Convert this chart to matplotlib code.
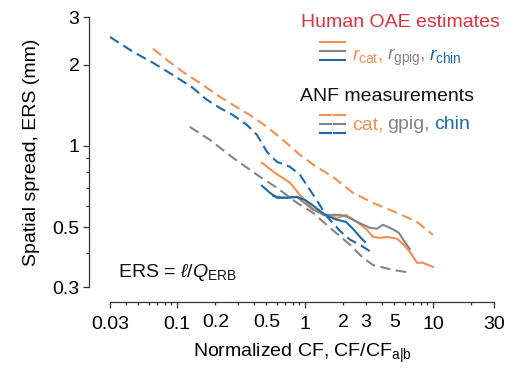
import matplotlib
matplotlib.use('Agg')
import matplotlib.pyplot as plt
from matplotlib.ticker import FixedLocator, NullFormatter, FixedFormatter

plt.rcParams['font.family'] = ['Liberation Sans', 'DejaVu Sans']
plt.rcParams['mathtext.fontset'] = 'custom'
plt.rcParams['mathtext.rm'] = 'Liberation Sans'
plt.rcParams['mathtext.it'] = 'Liberation Sans:italic'
plt.rcParams['mathtext.bf'] = 'Liberation Sans:bold'

# ANF measurements (dashed)
cat_anf_x = [0.065, 0.0835, 0.111, 0.151, 0.205, 0.274, 0.372, 0.505, 0.673, 0.914, 1.197, 1.65, 2.37, 3.4,
             5.23, 7.5, 10.0]
cat_anf_y = [2.29, 2.08, 1.88, 1.71, 1.545, 1.418, 1.30, 1.176, 1.052, 0.926, 0.843, 0.768, 0.67, 0.615,
             0.565, 0.523, 0.468]
gpig_anf_x = [0.126, 0.181, 0.274, 0.445, 0.605, 0.866, 1.155, 1.57, 2.25, 2.84, 3.4, 4.87, 6.6]
gpig_anf_y = [1.176, 1.052, 0.903, 0.768, 0.699, 0.615, 0.565, 0.497, 0.43, 0.385, 0.362, 0.347, 0.339]
chin_anf_x = [0.030, 0.0453, 0.065, 0.093, 0.133, 0.1716, 0.217, 0.274, 0.352, 0.422, 0.505, 0.605, 0.764,
              0.914, 1.055, 1.26, 1.49, 1.88, 2.25, 2.69, 3.4]
chin_anf_y = [2.53, 2.23, 2.03, 1.83, 1.64, 1.48, 1.38, 1.30, 1.196, 1.098, 0.95, 0.872, 0.836,
              0.781, 0.705, 0.62, 0.546, 0.484, 0.449, 0.43, 0.40]

# Human OAE estimates (solid)
cat_oae_x = [0.462, 0.583, 0.764, 0.914, 1.134, 1.38, 1.78, 2.09, 2.55, 3.05, 3.4, 3.85, 4.37, 5.23,
             5.93, 6.73, 7.5, 8.35, 10.0]
cat_oae_y = [0.865, 0.794, 0.73, 0.658, 0.589, 0.555, 0.541, 0.555, 0.523, 0.489, 0.46, 0.456, 0.46, 0.453,
             0.43, 0.40, 0.369, 0.369, 0.356]
gpig_oae_x = [0.5625, 0.673, 0.866, 1.04, 1.155, 1.485, 1.88, 2.13, 2.55, 3.22, 3.65, 4.07, 4.78, 5.42, 5.93, 6.6]
gpig_oae_y = [0.653, 0.642, 0.647, 0.604, 0.58, 0.555, 0.555, 0.546, 0.523, 0.497, 0.493, 0.51, 0.493, 0.476,
              0.445, 0.415]
chin_oae_x = [0.462, 0.533, 0.605, 0.723, 0.866, 1.0, 1.197, 1.43, 1.78, 2.09, 2.37, 2.69, 2.94]
chin_oae_y = [0.711, 0.67, 0.642, 0.642, 0.647, 0.631, 0.594, 0.555, 0.532, 0.523, 0.493, 0.46, 0.441]

x_major = [0.03, 0.1, 1, 10, 30]
x_minor_labeled = [0.2, 0.5, 2, 3, 5]
y_ticks = [0.3, 0.5, 1, 2, 3]

ORANGE = '#F28F55'
GRAY = '#848484'
BLUE = '#1E6AA8'
RED = '#DC3340'
FS = 14

W, H = 516, 369
fig = plt.figure(figsize=(W / 100, H / 100), dpi=100)
ax = fig.add_axes([110 / W, 1 - 287 / H, 384 / W, 270 / H])

dash = (5, 2.6)
lw = 1.5
ax.plot(cat_anf_x, cat_anf_y, color=ORANGE, lw=lw, dashes=dash)
ax.plot(gpig_anf_x, gpig_anf_y, color=GRAY, lw=lw, dashes=dash)
ax.plot(chin_anf_x, chin_anf_y, color=BLUE, lw=lw, dashes=dash)
ax.plot(cat_oae_x, cat_oae_y, color=ORANGE, lw=lw)
ax.plot(gpig_oae_x, gpig_oae_y, color=GRAY, lw=lw)
ax.plot(chin_oae_x, chin_oae_y, color=BLUE, lw=lw)

ax.set_xscale('log')
ax.set_yscale('log')
ax.set_xlim(0.03, 30)
ax.set_ylim(0.3, 3)

for s in ['top', 'right']:
    ax.spines[s].set_visible(False)
ax.spines['left'].set_position(('outward', 15))
ax.spines['bottom'].set_position(('outward', 11))
for s in ['left', 'bottom']:
    ax.spines[s].set_color('#333333')
    ax.spines[s].set_linewidth(0.9)

x_minor = [m * d for d in [0.01, 0.1, 1, 10] for m in range(2, 10) if 0.03 < m * d < 30]
ax.xaxis.set_major_locator(FixedLocator(x_major))
ax.xaxis.set_major_formatter(FixedFormatter(['0.03', '0.1', '1', '10', '30']))
ax.xaxis.set_minor_locator(FixedLocator(x_minor))
ax.xaxis.set_minor_formatter(FixedFormatter(
    [('%g' % v) if any(abs(v - t) < 1e-9 for t in x_minor_labeled) else '' for v in x_minor]))

y_minor = [0.4, 0.6, 0.7, 0.8, 0.9]
ax.yaxis.set_major_locator(FixedLocator(y_ticks))
ax.yaxis.set_major_formatter(FixedFormatter(['0.3', '0.5', '1', '2', '3']))
ax.yaxis.set_minor_locator(FixedLocator(y_minor))
ax.yaxis.set_minor_formatter(NullFormatter())

ax.tick_params(which='major', length=4, width=0.9, color='#333333', labelsize=FS, pad=3)
ax.tick_params(which='minor', length=2.5, width=0.9, color='#333333', labelsize=FS, pad=6)
ax.tick_params(axis='x', which='major', pad=6)
ax.tick_params(axis='y', which='major', pad=3)

ax.set_xlabel('Normalized CF, CF/CF$_{\\mathrm{a|b}}$', fontsize=FS, labelpad=6)
ax.set_ylabel('Spatial spread, ERS (mm)', fontsize=FS, labelpad=9)

ax.text(118 / W, 1 - 277 / H, 'ERS = $\\ell$/$Q_{\\mathrm{ERB}}$', transform=fig.transFigure,
        fontsize=FS, va='baseline', ha='left', color='#111111')


def fx(px):
    return px / W


def fy(py):
    return 1 - py / H


fig.text(fx(400), fy(27), 'Human OAE estimates', color=RED, fontsize=FS, ha='center', va='baseline')
fig.text(fx(387), fy(101), 'ANF measurements', color='#111111', fontsize=FS, ha='center', va='baseline')

for yy, c in zip([42, 51, 60], [ORANGE, GRAY, BLUE]):
    fig.add_artist(plt.Line2D([fx(320), fx(345)], [fy(yy), fy(yy)], color=c, lw=lw,
                              transform=fig.transFigure))
for yy, c in zip([115, 124, 133], [ORANGE, GRAY, BLUE]):
    for x0, x1 in [(320, 331), (334, 345)]:
        fig.add_artist(plt.Line2D([fx(x0), fx(x1)], [fy(yy), fy(yy)], color=c, lw=lw,
                                  transform=fig.transFigure))

renderer = fig.canvas.get_renderer()


def pieces(x, y, items):
    for s, c in items:
        t = fig.text(fx(x), fy(y), s, color=c, fontsize=FS, ha='left', va='baseline')
        x += t.get_window_extent(renderer).width + 4


pieces(352, 60, [('$r_{\\mathrm{cat}}$,', ORANGE), ('$r_{\\mathrm{gpig}}$,', GRAY), ('$r_{\\mathrm{chin}}$', BLUE)])
pieces(352, 129, [('cat,', ORANGE), ('gpig,', GRAY), ('chin', BLUE)])

fig.savefig('out.png', dpi=100)
